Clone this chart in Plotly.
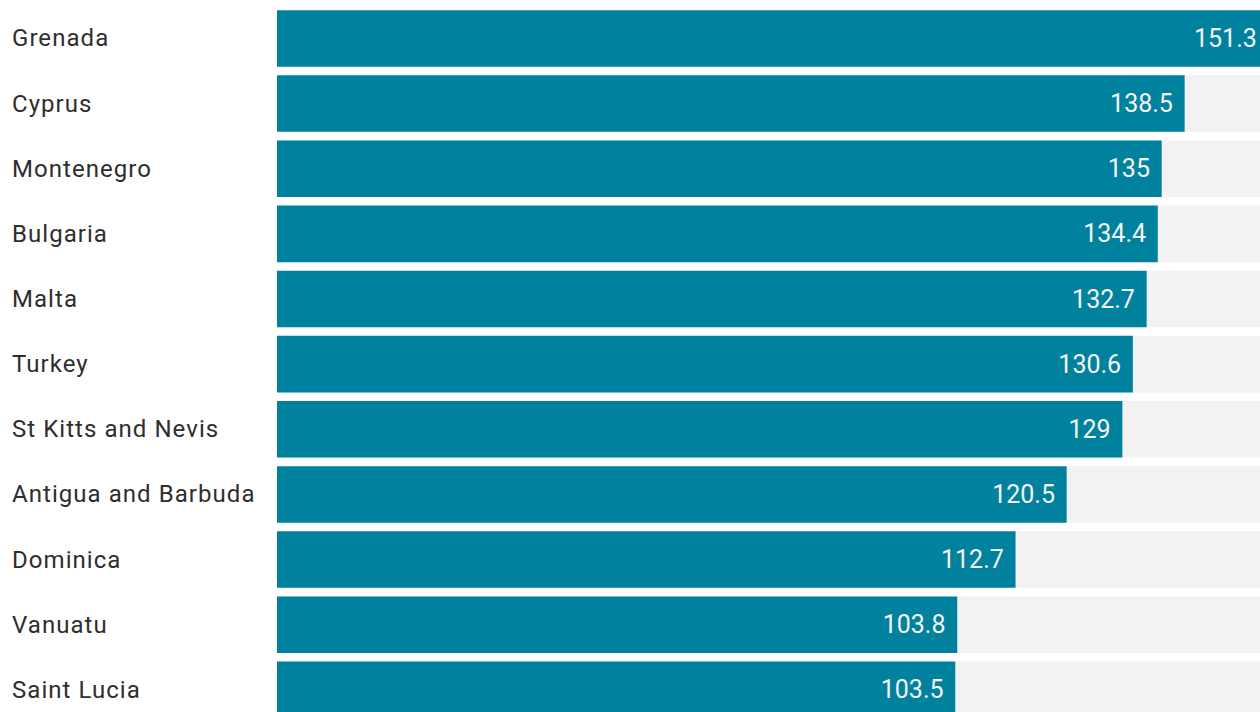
import plotly.graph_objects as go

countries = ["Grenada", "Cyprus", "Montenegro", "Bulgaria", "Malta", "Turkey",
             "St Kitts and Nevis", "Antigua and Barbuda", "Dominica", "Vanuatu", "Saint Lucia"]
values = [151.3, 138.5, 135, 134.4, 132.7, 130.6, 129, 120.5, 112.7, 103.8, 103.5]
labels = ["151.3", "138.5", "135", "134.4", "132.7", "130.6", "129", "120.5", "112.7", "103.8", "103.5"]

BAR = "#00829f"
TRACK = "#f2f2f2"
FONT = "Roboto"

track = [max(values)] * len(values)

fig = go.Figure()
fig.add_trace(go.Bar(
    y=countries, x=track, orientation="h", marker=dict(color=TRACK, line=dict(width=0)),
    hoverinfo="skip", showlegend=False,
))
fig.add_trace(go.Bar(
    y=countries, x=values, orientation="h", marker=dict(color=BAR, line=dict(width=0)),
    text=[t + "\u00a0\u200a" for t in labels], textposition="inside", insidetextanchor="end",
    textfont=dict(family=FONT, size=25, color="#f4f4f4"),
    showlegend=False,
))

for c in countries:
    fig.add_annotation(
        x=0, xref="paper", y=c, yref="y", xanchor="left", xshift=-267, align="left",
        text=c, showarrow=False, font=dict(family=FONT, size=24, color="#2e2e2e"),
    )

fig.update_layout(
    width=1260, height=712,
    margin=dict(l=277, r=0, t=0, b=0),
    barmode="overlay", bargap=0.132,
    plot_bgcolor="white", paper_bgcolor="white",
    xaxis=dict(range=[0, 150], visible=False, fixedrange=True),
    yaxis=dict(range=[10.34, -0.59], showticklabels=False, showgrid=False,
               zeroline=False, showline=False, ticks="", fixedrange=True),
)

post = (
    "document.body.style.margin='0';document.body.style.overflow='hidden';"
    "document.querySelectorAll('.annotation-text').forEach(function(e){e.style.letterSpacing='1.05px';});"
)
fig.write_html("out.html", config={"displayModeBar": False}, post_script=post)
